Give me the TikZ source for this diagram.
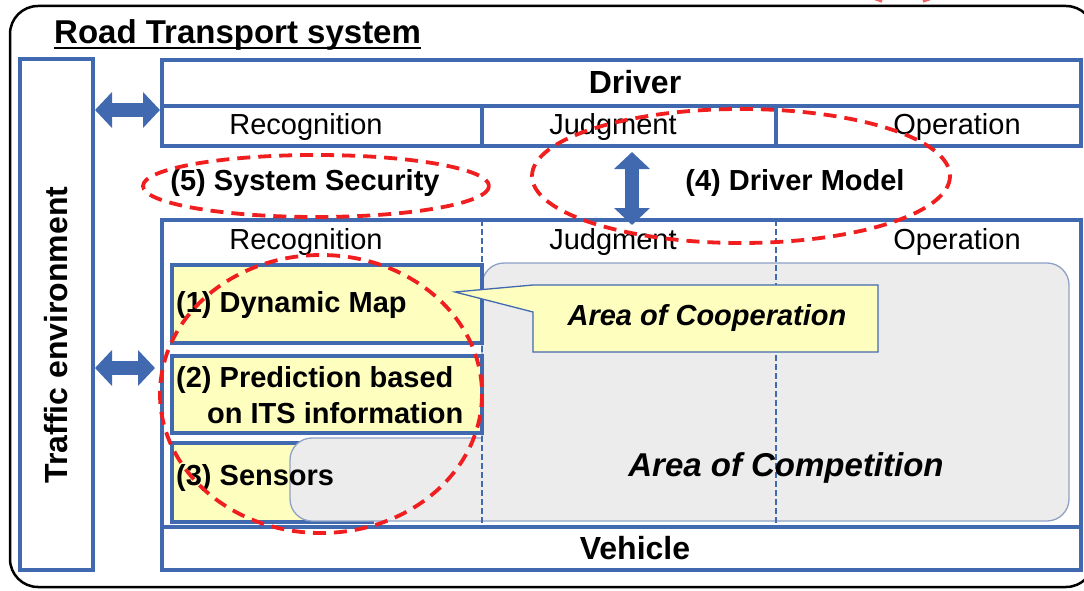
\documentclass[tikz,border=0pt]{standalone}
\usepackage{fontspec}
\setmainfont{Liberation Sans}
\usetikzlibrary{arrows.meta,calc}
\definecolor{frameblue}{HTML}{4169B0}
\definecolor{softyellow}{HTML}{FEFEBE}
\definecolor{dashred}{HTML}{F01E1E}
\definecolor{areagray}{HTML}{ECECEC}
\definecolor{areaedge}{HTML}{8DA2C6}
\tikzset{
  bluebox/.style={draw=frameblue, line width=4.5pt, inner sep=0pt, outer sep=0pt},
  ybox/.style={draw=frameblue, line width=3.5pt, fill=softyellow, inner sep=0pt, outer sep=0pt, anchor=north west},
  reddash/.style={draw=dashred, line width=3.8pt, dash pattern=on 13pt off 8pt},
  vdash/.style={draw=frameblue, line width=1.5pt, dash pattern=on 6pt off 3pt},
  lbl/.style={font=\fontsize{29}{34}\selectfont, inner sep=0pt},
  blbl/.style={font=\bfseries\fontsize{29}{34}\selectfont, inner sep=0pt},
  bigbold/.style={font=\bfseries\fontsize{32}{36}\selectfont, inner sep=0pt},
  blockarrow/.style={draw=frameblue, line width=14pt,
    {Triangle[width=35pt,length=17pt]}-{Triangle[width=35pt,length=17pt]}},
}
\begin{document}
\begin{tikzpicture}[x=1pt,y=-1pt]
\useasboundingbox (0,0) rectangle (1084,591);
\clip (0,0) rectangle (1084,591);
\fill[white] (0,0) rectangle (1084,591);

% outer frame of the whole system
\draw[line width=2.5pt, rounded corners=28pt] (10,6) rectangle (1094,587);
% ends of a dashed mark cut off by the top edge
\draw[dashred!70, line width=2.5pt] (875,-1) -- (882,1.5);
\draw[dashred!70, line width=2.5pt] (923,1.5) -- (930,-1);

% title with its underline
\node[font=\bfseries\fontsize{33}{36}\selectfont, inner sep=0pt, anchor=base west] (title) at (54,44) {Road Transport system};
\draw[line width=2pt] ([yshift=-4pt]title.base west) -- ([yshift=-4pt]title.base east);

% traffic environment column
\node[bluebox, anchor=north west, minimum width=73pt, minimum height=511pt] (env) at (20,59) {};
\node[font=\bfseries\fontsize{32}{36}\selectfont, inner sep=0pt, rotate=90] (envtext) at (56,335) {Traffic environment};

% driver block
\node[bluebox, anchor=north west, minimum width=919pt, minimum height=86pt] (drvbox) at (162,60) {};
\draw[frameblue, line width=4.5pt] (162,106) -- (1081,106);
\draw[frameblue, line width=4.5pt] (482,106) -- (482,146);
\draw[frameblue, line width=4.5pt] (776,106) -- (776,146);
\node[bigbold] (driver) at (635,82) {Driver};
\node[lbl] (drec) at (306,127) {Recognition};
\node[lbl] (djud) at (613,127) {Judgment};
\node[lbl] (dop) at (957,127) {Operation};

% vehicle block
\node[bluebox, anchor=north west, minimum width=919pt, minimum height=350pt] (lowbox) at (162,220) {};
\draw[frameblue, line width=4.5pt] (162,527) -- (1081,527);
\node[lbl] (vrec) at (306,242) {Recognition};
\node[lbl] (vjud) at (613,242) {Judgment};
\node[lbl] (vop) at (957,242) {Operation};
\node[bigbold] (vehicle) at (635,548) {Vehicle};

% recognition functions and the area of competition
\node[ybox, minimum width=200pt, minimum height=79pt] (sens) at (172,443) {};
\path[fill=areagray, draw=areaedge, line width=1.3pt]
  (482,400) [rounded corners=22pt] -- (482,263) -- (1069,263) -- (1069,521)
  -- (290,521) -- (290,438) -- (420,438) [sharp corners] -- (482,438) -- cycle;
\node[ybox, minimum width=310pt, minimum height=78pt] (dmap) at (172,265) {};
\node[ybox, minimum width=310pt, minimum height=77pt] (pred) at (172,356) {};
\draw[vdash] (482,220) -- (482,527);
\draw[vdash] (776,220) -- (776,527);

\node[blbl, anchor=west] (t1) at (176,305) {(1) Dynamic Map};
\node[blbl, anchor=west] (t2a) at (176,380) {(2) Prediction based};
\node[blbl, anchor=west] (t2b) at (207,413) {on ITS information};
\node[blbl, anchor=west] (t3) at (176,478) {(3) Sensors};

% callout for the area of cooperation
\coordinate (tip) at (455,292);
\path[fill=softyellow, draw=frameblue, line width=1.3pt]
  (tip) -- (533,312) -- (533,352) -- (878,352) -- (878,285) -- (533,285) -- cycle;
\node[font=\bfseries\itshape\fontsize{29}{34}\selectfont, inner sep=0pt] (coop) at (707,318) {Area of Cooperation};
\node[font=\bfseries\itshape\fontsize{33}{38}\selectfont, inner sep=0pt] (comp) at (786,468) {Area of Competition};

% research themes
\node[blbl] (sec) at (305,183) {(5) System Security};
\node[blbl] (dmod) at (795,183) {(4) Driver Model};
\draw[reddash] (316,186) ellipse [x radius=173, y radius=31];
\draw[reddash] (741,176) ellipse [x radius=209, y radius=67];
\draw[reddash] (321,394) ellipse [x radius=161, y radius=139];

% interactions
\coordinate (upY) at (0,110);
\coordinate (lowY) at (0,368);
\coordinate (arX) at (632,0);
\draw[blockarrow] ([xshift=2pt]env.east |- upY) -- ([xshift=-2pt]drvbox.west |- upY);
\draw[blockarrow] ([xshift=2pt]env.east |- lowY) -- ([xshift=-7pt]lowbox.west |- lowY);
\draw[blockarrow] ([yshift=-6pt]drvbox.south -| arX) -- ([yshift=-5pt]lowbox.north -| arX);
\end{tikzpicture}
\end{document}
